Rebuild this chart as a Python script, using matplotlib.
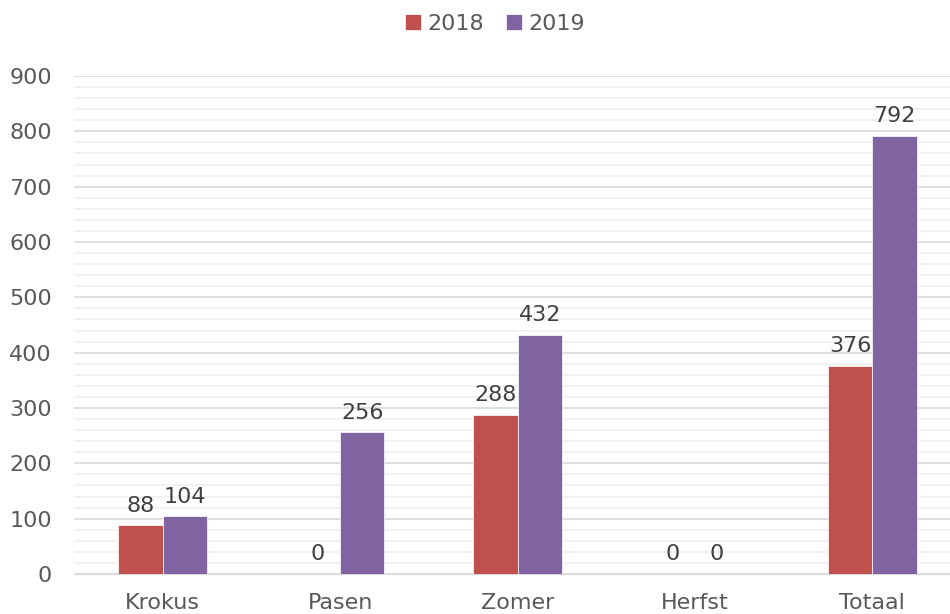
import numpy as np
import matplotlib.pyplot as plt
from matplotlib.ticker import MultipleLocator

categories = ["Krokus", "Pasen", "Zomer", "Herfst", "Totaal"]
years = ["2018", "2019"]
values_2018 = [88, 0, 288, 0, 376]
values_2019 = [104, 256, 432, 0, 792]

colors = ["#C0504D", "#8064A2"]
text_color = "#595959"

plt.rcParams['font.family'] = ['DejaVu Sans']

fig = plt.figure(figsize=(9.5, 6.14), dpi=100)
ax = fig.add_axes([74 / 950, (614 - 574) / 614, 887 / 950, (574 - 76) / 614])

x = np.arange(len(categories))
width = 0.25
series = [values_2018, values_2019]
for i, (year, vals) in enumerate(zip(years, series)):
    pos = x + (i - 0.5) * width
    ax.bar(pos, vals, width, color=colors[i], label=year,
           edgecolor="white", linewidth=0.5, zorder=3)
    for p, v in zip(pos, vals):
        ax.annotate(str(v), (p, v), xytext=(0, 7), textcoords="offset points",
                    ha="center", va="bottom", fontsize=16, color="#404040")

ax.set_xlim(-0.5, 4.5)
ax.set_ylim(0, 900)
ax.yaxis.set_major_locator(MultipleLocator(100))
ax.yaxis.set_minor_locator(MultipleLocator(20))
ax.grid(axis="y", which="major", color="#D9D9D9", linewidth=1.2, zorder=0)
ax.grid(axis="y", which="minor", color="#EFEFEF", linewidth=1.2, zorder=0)
ax.set_axisbelow(True)

ax.set_xticks(x)
ax.set_xticklabels(categories)
ax.tick_params(axis="both", which="both", length=0, labelsize=16, colors=text_color)
ax.tick_params(axis="y", pad=16)
ax.tick_params(axis="x", pad=14)
for s in ["top", "right", "left"]:
    ax.spines[s].set_visible(False)
ax.spines["bottom"].set_color("#D9D9D9")

fig.legend(loc="center", bbox_to_anchor=(495 / 950, 1 - 24 / 614), ncol=2,
           frameon=False, fontsize=16, handlelength=0.7, handleheight=0.7,
           handletextpad=0.3, columnspacing=1.0, labelcolor=text_color)

fig.savefig("out.png", dpi=100)
